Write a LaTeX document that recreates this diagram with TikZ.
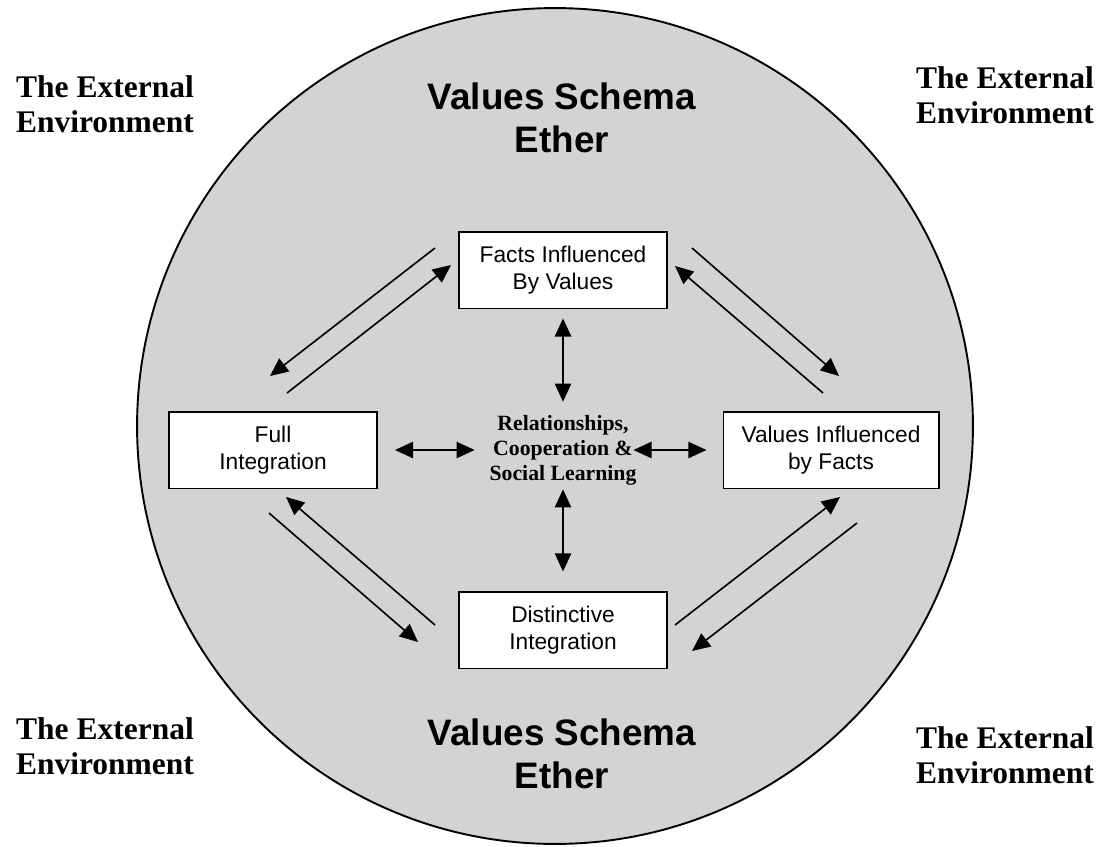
\documentclass[tikz,border=0pt]{standalone}
\usepackage{fontspec}
\setmainfont{Liberation Serif}
\newfontfamily\arialfont{Liberation Sans}
\usepackage{tikz}
\usepackage{xcolor}
\usetikzlibrary{arrows.meta}

\definecolor{etherGray}{RGB}{211,211,211}

\begin{document}
\begin{tikzpicture}[x=0.524pt, y=-0.524pt,
  >={Triangle[length=9.5pt,width=8.5pt]},
  valueBox/.style={rectangle, draw, line width=1pt, fill=white, minimum width=109pt, minimum height=40.3pt, inner sep=0pt, align=center, font=\arialfont\fontsize{11.9}{14.1}\selectfont},
  etherTitle/.style={align=center, inner sep=0pt, font=\arialfont\bfseries\fontsize{19.3}{22.5}\selectfont},
  externalLabel/.style={align=center, inner sep=0pt, font=\bfseries\fontsize{16.5}{18.3}\selectfont},
  linkArrow/.style={<->, line width=1pt},
  flowArrow/.style={->, line width=0.85pt}]

\useasboundingbox (0,0) rectangle (1106,846);

% Ether

\node[circle, draw, line width=1pt, fill=etherGray, minimum size=438pt, inner sep=0pt] (EtherCircle) at (555,426) {};

\node[etherTitle] (EtherTop)    at (562,118) {Values Schema\\Ether};
\node[etherTitle] (EtherBottom) at (562,754) {Values Schema\\Ether};

% External environment

\node[externalLabel] (ExternalTopLeft)     at (105,104)  {The External\\Environment};
\node[externalLabel] (ExternalTopRight)    at (1005,95)  {The External\\Environment};
\node[externalLabel] (ExternalBottomLeft)  at (105,746)  {The External\\Environment};
\node[externalLabel] (ExternalBottomRight) at (1005,755) {The External\\Environment};

% Boxes

\node[valueBox]                        (FactsBox)    at (563,270) {Facts Influenced\\By Values};
\node[valueBox]                        (FullBox)     at (273,450) {Full\\Integration};
\node[valueBox, minimum width=112.7pt] (ValuesBox)   at (831,450) {Values Influenced\\by Facts};
\node[valueBox]                        (DistinctBox) at (563,630) {Distinctive\\Integration};

\node[align=center, inner sep=0pt, minimum width=78.6pt, minimum height=45pt, font=\bfseries\fontsize{11.4}{13.1}\selectfont] (Centre) at (563,450) {Relationships,\\Cooperation \&\\Social Learning};

% Centre links

\draw[linkArrow, shorten <=4.7pt, shorten >=2.6pt] (FactsBox) -- (Centre);
\draw[linkArrow, shorten <=-2.1pt, shorten >=10pt] (Centre) -- (DistinctBox);
\draw[linkArrow, shorten <=8.9pt, shorten >=6.8pt] (FullBox) -- (Centre);
\draw[linkArrow, shorten <=-2.6pt, shorten >=8.4pt] (Centre) -- (ValuesBox);

% Flow between the boxes

\coordinate (FactsFullStart)       at (435,248);
\coordinate (FactsFullEnd)         at (270,376);
\coordinate (FullFactsStart)       at (287,393);
\coordinate (FullFactsEnd)         at (451,265);

\coordinate (FactsValuesStart)     at (692,248);
\coordinate (FactsValuesEnd)       at (839,376);
\coordinate (ValuesFactsStart)     at (823,393);
\coordinate (ValuesFactsEnd)       at (675,266);

\coordinate (FullDistinctStart)    at (269,513);
\coordinate (FullDistinctEnd)      at (418,642);
\coordinate (DistinctFullStart)    at (435,625);
\coordinate (DistinctFullEnd)      at (286,497);

\coordinate (DistinctValuesStart)  at (675,625);
\coordinate (DistinctValuesEnd)    at (840,497);
\coordinate (ValuesDistinctStart)  at (857,523);
\coordinate (ValuesDistinctEnd)    at (692,651);

\draw[flowArrow] (FactsFullStart) -- (FactsFullEnd);
\draw[flowArrow] (FullFactsStart) -- (FullFactsEnd);
\draw[flowArrow] (FactsValuesStart) -- (FactsValuesEnd);
\draw[flowArrow] (ValuesFactsStart) -- (ValuesFactsEnd);
\draw[flowArrow] (FullDistinctStart) -- (FullDistinctEnd);
\draw[flowArrow] (DistinctFullStart) -- (DistinctFullEnd);
\draw[flowArrow] (DistinctValuesStart) -- (DistinctValuesEnd);
\draw[flowArrow] (ValuesDistinctStart) -- (ValuesDistinctEnd);

\end{tikzpicture}
\end{document}
